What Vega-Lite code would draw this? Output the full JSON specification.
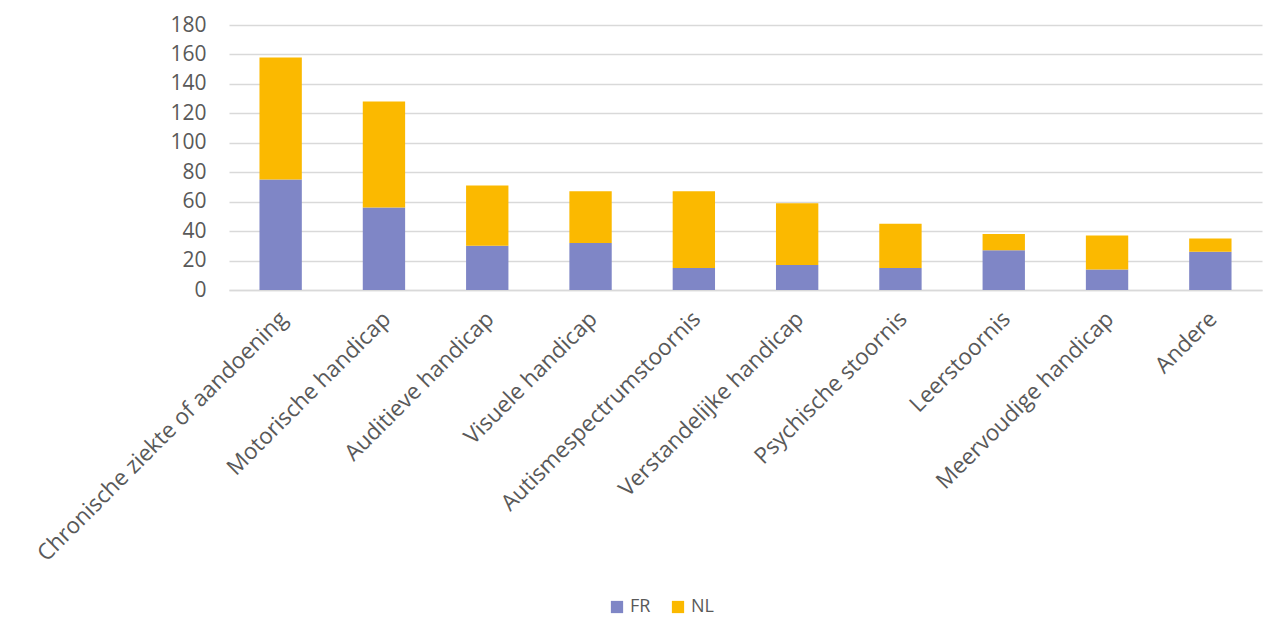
{
  "$schema": "https://vega.github.io/schema/vega-lite/v6.json",
  "width": 1033,
  "height": 265,
  "autosize": {"type": "none"},
  "padding": {"left": 229, "top": 25, "right": 21, "bottom": 353},
  "background": "white",
  "data": {
    "values": [
      {"categorie": "Chronische ziekte of aandoening", "orde": 1, "taal": "FR", "aantal": 75},
      {"categorie": "Chronische ziekte of aandoening", "orde": 1, "taal": "NL", "aantal": 83},
      {"categorie": "Motorische handicap", "orde": 2, "taal": "FR", "aantal": 56},
      {"categorie": "Motorische handicap", "orde": 2, "taal": "NL", "aantal": 72},
      {"categorie": "Auditieve handicap", "orde": 3, "taal": "FR", "aantal": 30},
      {"categorie": "Auditieve handicap", "orde": 3, "taal": "NL", "aantal": 41},
      {"categorie": "Visuele handicap", "orde": 4, "taal": "FR", "aantal": 32},
      {"categorie": "Visuele handicap", "orde": 4, "taal": "NL", "aantal": 35},
      {"categorie": "Autismespectrumstoornis", "orde": 5, "taal": "FR", "aantal": 15},
      {"categorie": "Autismespectrumstoornis", "orde": 5, "taal": "NL", "aantal": 52},
      {"categorie": "Verstandelijke handicap", "orde": 6, "taal": "FR", "aantal": 17},
      {"categorie": "Verstandelijke handicap", "orde": 6, "taal": "NL", "aantal": 42},
      {"categorie": "Psychische stoornis", "orde": 7, "taal": "FR", "aantal": 15},
      {"categorie": "Psychische stoornis", "orde": 7, "taal": "NL", "aantal": 30},
      {"categorie": "Leerstoornis", "orde": 8, "taal": "FR", "aantal": 27},
      {"categorie": "Leerstoornis", "orde": 8, "taal": "NL", "aantal": 11},
      {"categorie": "Meervoudige handicap", "orde": 9, "taal": "FR", "aantal": 14},
      {"categorie": "Meervoudige handicap", "orde": 9, "taal": "NL", "aantal": 23},
      {"categorie": "Andere", "orde": 10, "taal": "FR", "aantal": 26},
      {"categorie": "Andere", "orde": 10, "taal": "NL", "aantal": 9}
    ]
  },
  "mark": {"type": "bar"},
  "encoding": {
    "x": {
      "field": "categorie",
      "type": "nominal",
      "sort": {"field": "orde", "op": "min"},
      "scale": {"paddingInner": 0.59, "paddingOuter": 0.295},
      "axis": {
        "title": null,
        "labelAngle": -45,
        "labelAlign": "right",
        "labelBaseline": "middle",
        "labelPadding": 25,
        "labelOffset": 3,
        "labelFont": "Open Sans",
        "labelFontSize": 22.5,
        "labelColor": "#595959",
        "labelLimit": 500,
        "ticks": false,
        "domainColor": "#D9D9D9",
        "domainWidth": 1.5
      }
    },
    "y": {
      "field": "aantal",
      "type": "quantitative",
      "stack": "zero",
      "scale": {"domain": [0, 180], "nice": false},
      "axis": {
        "title": null,
        "values": [0, 20, 40, 60, 80, 100, 120, 140, 160, 180],
        "labelFont": "Open Sans",
        "labelFontSize": 21,
        "labelColor": "#595959",
        "labelPadding": 23,
        "ticks": false,
        "domain": false,
        "gridColor": "#D9D9D9",
        "gridWidth": 1.5
      }
    },
    "color": {
      "field": "taal",
      "type": "nominal",
      "scale": {"domain": ["FR", "NL"], "range": ["#7F86C6", "#FBB900"]},
      "legend": {
        "title": null,
        "orient": "none",
        "legendX": 379,
        "legendY": 573,
        "direction": "horizontal",
        "symbolType": "square",
        "symbolSize": 150,
        "symbolStrokeWidth": 0,
        "labelFont": "Open Sans",
        "labelFontSize": 18,
        "labelColor": "#595959",
        "columnPadding": 18
      }
    },
    "order": {"field": "taal", "sort": "ascending"}
  },
  "config": {
    "view": {"stroke": null}
  }
}
